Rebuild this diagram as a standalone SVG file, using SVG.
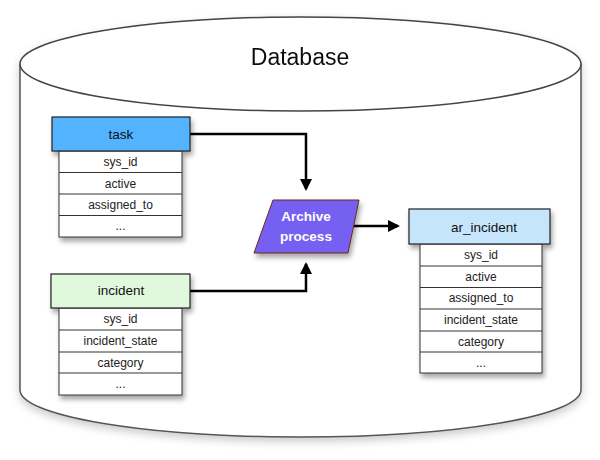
<svg xmlns="http://www.w3.org/2000/svg" width="600" height="460" viewBox="0 0 600 460">
<style>
text{font-family:"Liberation Sans",Arial,sans-serif;fill:#111;text-anchor:middle;dominant-baseline:central}
.hdr{font-size:13.5px}
.row{font-size:12px;fill:#222}
.box{stroke:#222;stroke-width:1.2}
.cell{fill:#fff;stroke:#333;stroke-width:1}
.conn{fill:none;stroke:#000;stroke-width:2.5}
</style>
<defs>
<filter id="sh" x="-10%" y="-10%" width="130%" height="130%">
<feDropShadow dx="2" dy="4" stdDeviation="2.5" flood-color="#000" flood-opacity="0.35"/>
</filter>
<filter id="shc" x="-5%" y="-5%" width="110%" height="115%">
<feDropShadow dx="0" dy="4" stdDeviation="4" flood-color="#000" flood-opacity="0.2"/>
</filter>
<marker id="ah" markerWidth="12" markerHeight="12" refX="10" refY="6" orient="auto" markerUnits="userSpaceOnUse" viewBox="0 0 12 12">
<path d="M0,0 L12,6 L0,12 z" fill="#000"/>
</marker>
</defs>

<g id="database" filter="url(#shc)">
<path d="M20,64 L20,390 A280.5,47 0 0 0 581,390 L581,64" fill="#fff" stroke="#555" stroke-width="1.5"/>
<ellipse cx="300.5" cy="64" rx="280.5" ry="47" fill="#fff" stroke="#444" stroke-width="1.5"/>
<text x="300" y="57" style="font-size:23px">Database</text>
</g>

<g id="connectors">
<path class="conn" d="M190,134 H306 V189" marker-end="url(#ah)"/>
<path class="conn" d="M190,291 H306 V264" marker-end="url(#ah)"/>
<path class="conn" d="M354,226 H398" marker-end="url(#ah)"/>
</g>

<g id="task">
<g filter="url(#sh)">
<rect class="cell" x="59" y="151" width="123" height="86"/>
<rect class="box" x="52" y="117" width="138" height="34" fill="#52b3fe"/>
</g>
<line class="cell" x1="59" y1="172.5" x2="182" y2="172.5"/>
<line class="cell" x1="59" y1="194" x2="182" y2="194"/>
<line class="cell" x1="59" y1="215.5" x2="182" y2="215.5"/>
<text class="hdr" x="121" y="134">task</text>
<text class="row" x="120.5" y="162">sys_id</text>
<text class="row" x="120.5" y="183.5">active</text>
<text class="row" x="120.5" y="205">assigned_to</text>
<text class="row" x="120.5" y="226">...</text>
</g>

<g id="incident">
<g filter="url(#sh)">
<rect class="cell" x="59" y="308" width="123" height="87"/>
<rect class="box" x="51" y="274" width="139" height="34" fill="#e0f8dc"/>
</g>
<line class="cell" x1="59" y1="330" x2="182" y2="330"/>
<line class="cell" x1="59" y1="352" x2="182" y2="352"/>
<line class="cell" x1="59" y1="373" x2="182" y2="373"/>
<text class="hdr" x="121" y="290">incident</text>
<text class="row" x="120.5" y="319">sys_id</text>
<text class="row" x="120.5" y="341">incident_state</text>
<text class="row" x="120.5" y="362.5">category</text>
<text class="row" x="120.5" y="384">...</text>
</g>

<g id="archive">
<polygon points="273,200 359,200 348,253 254,253" fill="#7460f2" stroke="#6a2a1a" stroke-width="1" filter="url(#sh)"/>
<text x="306" y="216" style="font-size:13.5px;fill:#fff;font-weight:bold">Archive</text>
<text x="306" y="236" style="font-size:13.5px;fill:#fff;font-weight:bold">process</text>
</g>

<g id="ar_incident">
<g filter="url(#sh)">
<rect class="cell" x="420" y="244" width="122" height="129"/>
<rect class="box" x="409" y="209" width="141" height="35" fill="#c4e5fb"/>
</g>
<line class="cell" x1="420" y1="266" x2="542" y2="266"/>
<line class="cell" x1="420" y1="287.5" x2="542" y2="287.5"/>
<line class="cell" x1="420" y1="309" x2="542" y2="309"/>
<line class="cell" x1="420" y1="331" x2="542" y2="331"/>
<line class="cell" x1="420" y1="352" x2="542" y2="352"/>
<text class="hdr" x="484" y="227">ar_incident</text>
<text class="row" x="481" y="255">sys_id</text>
<text class="row" x="481" y="276.5">active</text>
<text class="row" x="481" y="298">assigned_to</text>
<text class="row" x="481" y="320">incident_state</text>
<text class="row" x="481" y="341.5">category</text>
<text class="row" x="481" y="362.5">...</text>
</g>
</svg>
